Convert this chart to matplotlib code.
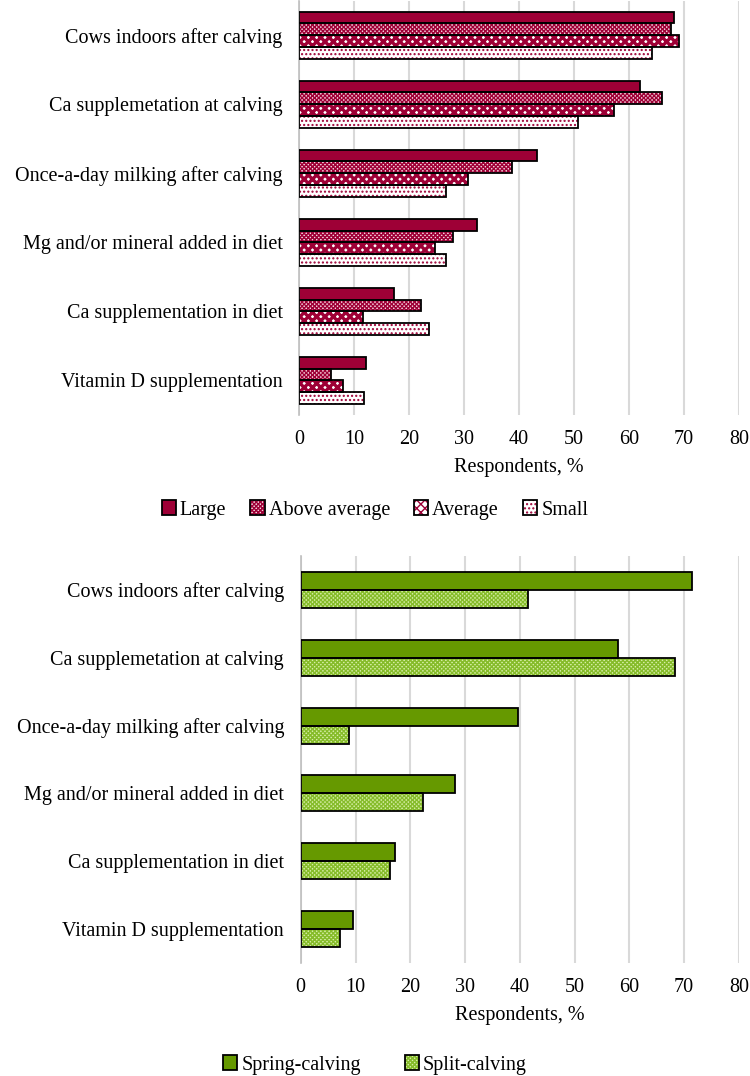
import numpy as np
import matplotlib
matplotlib.use("Agg")
import matplotlib.pyplot as plt
from matplotlib.patches import Patch
from matplotlib.legend_handler import HandlerTuple

plt.rcParams["font.family"] = ["Liberation Serif", "DejaVu Serif"]
plt.rcParams["font.size"] = 14.5

# categories, top to bottom
practices = [
    "Cows indoors after calving",
    "Ca supplemetation at calving",
    "Once-a-day milking after calving",
    "Mg and/or mineral added in diet",
    "Ca supplementation in diet",
    "Vitamin D supplementation",
]

# top panel: herd size
size_groups = ["Large", "Above average", "Average", "Small"]
large = [68.2, 62.1, 43.2, 32.4, 17.3, 12.1]
above_average = [67.7, 66.1, 38.8, 28.0, 22.1, 5.7]
average = [69.2, 57.3, 30.7, 24.8, 11.6, 7.9]
small = [64.2, 50.7, 26.8, 26.7, 23.6, 11.8]

# bottom panel: calving system
calving_groups = ["Spring-calving", "Split-calving"]
spring = [71.4, 57.9, 39.7, 28.2, 17.3, 9.5]
split = [41.5, 68.4, 8.8, 22.3, 16.3, 7.2]

crimson = "#9E0036"
green = "#669900"

# (face, hatch colour, hatch, hatch linewidth)
size_styles = [
    (crimson, crimson, None, 1.0),
    ("#F6D3DE", crimson, "xxxxxxxx", 1.0),
    ("white", crimson, "xxxx", 2.4),
    ("white", crimson, "....", 1.0),
]
calving_styles = [
    (green, green, None, 1.0),
    ("#D6EDA6", "#86BC2A", "xxxxxxxx", 1.0),
]

fig = plt.figure(figsize=(7.5, 10.76), dpi=100)
ax1 = fig.add_axes([0.399, 0.6143, 0.586, 0.3852])
ax2 = fig.add_axes([0.401, 0.105, 0.584, 0.3783])


def draw_panel(ax, series, styles, group_width):
    y = np.arange(len(practices))
    n = len(series)
    h = group_width / n
    handles = []
    for i, (vals, (face, hcol, hatch, hlw)) in enumerate(zip(series, styles)):
        pos = y - group_width / 2 + h * (i + 0.5)
        with plt.rc_context({"hatch.linewidth": hlw}):
            fill = ax.barh(pos, vals, height=h, color=face, edgecolor=hcol,
                           hatch=hatch, linewidth=0, zorder=2)
            for b in fill:
                if hasattr(b, "set_hatch_linewidth"):
                    b.set_hatch_linewidth(hlw)
        ax.barh(pos, vals, height=h, fill=False, edgecolor="black",
                linewidth=1.3, zorder=3)
        with plt.rc_context({"hatch.linewidth": hlw}):
            p1 = Patch(facecolor=face, edgecolor=hcol, hatch=hatch, linewidth=0)
            if hasattr(p1, "set_hatch_linewidth"):
                p1.set_hatch_linewidth(hlw)
        p2 = Patch(fill=False, edgecolor="black", linewidth=1.3)
        handles.append((p1, p2))
    ax.set_yticks(y)
    ax.set_yticklabels(practices)
    ax.set_ylim(len(practices) - 0.5, -0.5)
    ax.set_xlim(0, 80)
    ax.set_xticks(np.arange(0, 81, 10))
    ax.xaxis.grid(True, color="#D9D9D9", linewidth=1.5, zorder=0)
    ax.set_axisbelow(True)
    for s in ["top", "right", "bottom"]:
        ax.spines[s].set_visible(False)
    ax.spines["left"].set_color("#BFBFBF")
    ax.spines["left"].set_linewidth(1.2)
    ax.tick_params(length=0)
    ax.tick_params(axis="x", pad=11)
    ax.tick_params(axis="y", pad=12)
    ax.set_xlabel("Respondents, %", labelpad=6)
    return handles


h1 = draw_panel(ax1, [large, above_average, average, small], size_styles, 0.68)
h2 = draw_panel(ax2, [spring, split], calving_styles, 0.53)

fig.legend(h1, size_groups, loc="center", bbox_to_anchor=(0.5, 1 - 510 / 1076),
           ncol=4, frameon=False, handlelength=0.7, handleheight=0.7,
           handletextpad=0.2, columnspacing=1.2,
           handler_map={tuple: HandlerTuple(ndivide=1)})
fig.legend(h2, calving_groups, loc="center", bbox_to_anchor=(0.5, 1 - 1065 / 1076),
           ncol=2, frameon=False, handlelength=0.7, handleheight=0.7,
           handletextpad=0.2, columnspacing=2.2,
           handler_map={tuple: HandlerTuple(ndivide=1)})

fig.savefig("out.png", dpi=100, facecolor="white")
